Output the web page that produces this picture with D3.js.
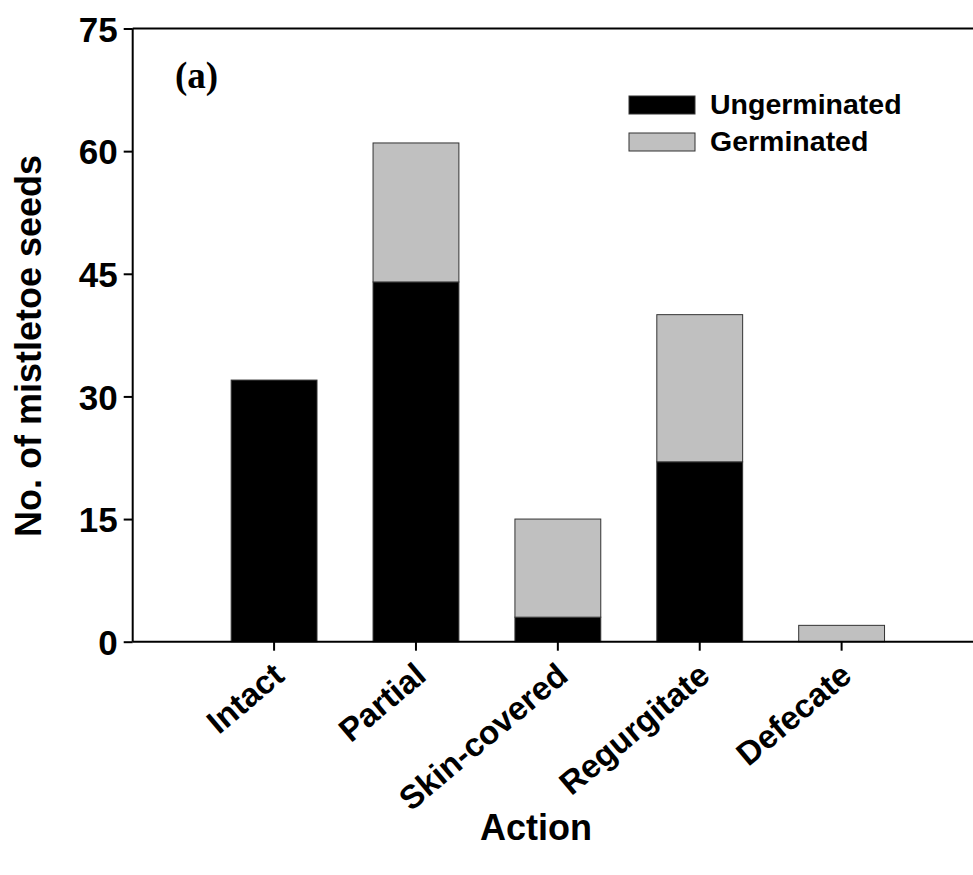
<!DOCTYPE html>
<html>
<head>
<meta charset="utf-8">
<script src="https://cdn.jsdelivr.net/npm/d3@7"></script>
<style>
  body { margin: 0; background: #fff; }
  text { font-family: Arial, "Liberation Sans", sans-serif; font-weight: bold; }
</style>
</head>
<body>
<script>
var width = 973,
    height = 875;

var categories = ["Intact", "Partial", "Skin-covered", "Regurgitate", "Defecate"];
var ungerminated = [32, 44, 3, 22, 0];
var germinated = [0, 17, 12, 18, 2];
var seriesNames = ["Ungerminated", "Germinated"];
var seriesColors = ["#000000", "#c0c0c0"];
var yTicks = [0, 15, 30, 45, 60, 75];

var plotLeft = 132.7, plotRight = 983, plotTop = 28.5, plotBottom = 641.7;

var svg = d3.select("body").append("svg")
    .attr("width", width)
    .attr("height", height);

var rows = categories.map(function(c, i) {
  return { cat: c, Ungerminated: ungerminated[i], Germinated: germinated[i] };
});

var stack = d3.stack().keys(seriesNames)(rows);

var x = d3.scaleBand()
    .domain(categories)
    .range([plotLeft, plotRight])
    .paddingInner(0.395)
    .paddingOuter(0.694);

var y = d3.scaleLinear()
    .domain([0, 75])
    .range([plotBottom, plotTop]);

// bars
svg.selectAll("g.layer")
    .data(stack)
    .enter().append("g")
    .attr("class", "layer")
    .attr("fill", function(d, i) { return seriesColors[i]; })
  .selectAll("rect")
    .data(function(d) { return d.filter(function(p) { return p[1] > p[0]; }); })
    .enter().append("rect")
    .attr("x", function(d) { return x(d.data.cat); })
    .attr("y", function(d) { return y(d[1]); })
    .attr("width", x.bandwidth())
    .attr("height", function(d) { return y(d[0]) - y(d[1]); })
    .attr("stroke", "#333")
    .attr("stroke-width", 1);

// top line
svg.append("line")
    .attr("x1", plotLeft).attr("x2", width)
    .attr("y1", y(75)).attr("y2", y(75))
    .attr("stroke", "#000").attr("stroke-width", 2);

// y axis
var yAxis = svg.append("g")
    .attr("transform", "translate(" + plotLeft + ",0)")
    .call(d3.axisLeft(y).tickValues(yTicks).tickSize(9).tickPadding(6).tickFormat(d3.format("d")));
yAxis.select(".domain").attr("stroke-width", 2).attr("d", "M0," + plotBottom + "V" + plotTop);
yAxis.selectAll(".tick line").attr("stroke-width", 2);
yAxis.selectAll(".tick text")
    .attr("font-size", 35)
    .attr("fill", "#000")
    .attr("dy", "0.36em");

// x axis
var xAxis = svg.append("g")
    .attr("transform", "translate(0," + plotBottom + ")")
    .call(d3.axisBottom(x).tickSize(9).tickSizeOuter(0));
xAxis.select(".domain").attr("stroke-width", 2).attr("d", "M" + plotLeft + ",0H" + width);
xAxis.selectAll(".tick line").attr("stroke-width", 2);
xAxis.selectAll(".tick text")
    .attr("font-size", 33)
    .attr("fill", "#000")
    .attr("text-anchor", "end")
    .attr("dy", null)
    .attr("y", 0)
    .attr("transform", "translate(12,37) rotate(-40)");

// axis titles
svg.append("text")
    .attr("x", 536)
    .attr("y", 840)
    .attr("text-anchor", "middle")
    .attr("font-size", 36)
    .text("Action");

svg.append("text")
    .attr("transform", "translate(41,346) rotate(-90)")
    .attr("text-anchor", "middle")
    .attr("font-size", 36)
    .text("No. of mistletoe seeds");

// panel label
svg.append("text")
    .attr("x", 175)
    .attr("y", 88)
    .attr("font-size", 37)
    .style("font-family", "'Times New Roman', 'Liberation Serif', serif")
    .text("(a)");

// legend
var legend = svg.selectAll("g.legend")
    .data(seriesNames)
    .enter().append("g")
    .attr("class", "legend")
    .attr("transform", function(d, i) { return "translate(629," + (96 + i * 37) + ")"; });

legend.append("rect")
    .attr("width", 66)
    .attr("height", 18)
    .attr("fill", function(d, i) { return seriesColors[i]; })
    .attr("stroke", "#333")
    .attr("stroke-width", 1);

legend.append("text")
    .attr("x", 81)
    .attr("y", 18)
    .attr("font-size", 28.5)
    .text(function(d) { return d; });
</script>
</body>
</html>
